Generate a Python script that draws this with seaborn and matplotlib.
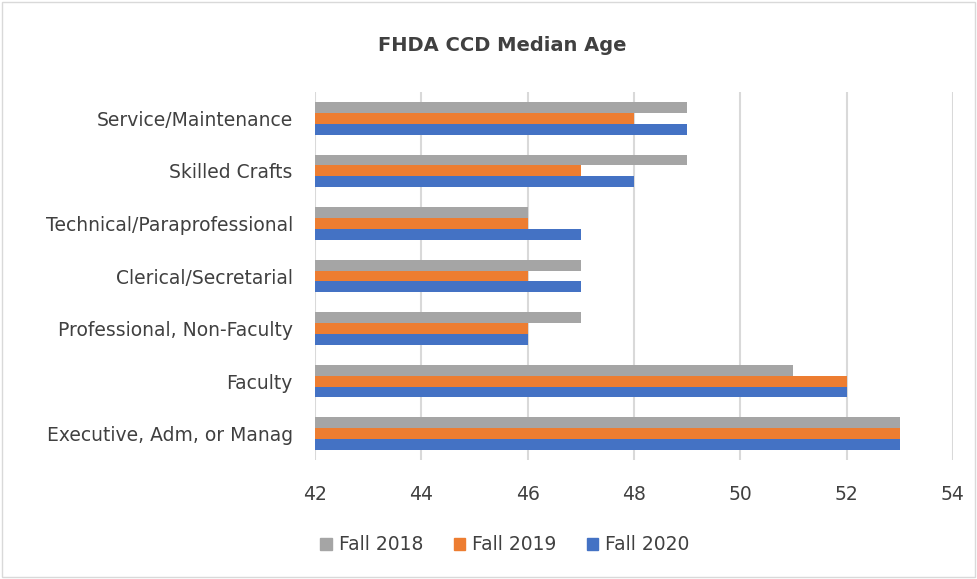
import matplotlib.pyplot as plt
import matplotlib.patches as mpatches
import seaborn as sns
import pandas as pd

categories = [
    'Service/Maintenance', 'Skilled Crafts', 'Technical/Paraprofessional',
    'Clerical/Secretarial', 'Professional, Non-Faculty', 'Faculty',
    'Executive, Adm, or Manag',
]
fall_2018 = [49, 49, 46, 47, 47, 51, 53]
fall_2019 = [48, 47, 46, 46, 46, 52, 53]
fall_2020 = [49, 48, 47, 47, 46, 52, 53]
series_names = ['Fall 2018', 'Fall 2019', 'Fall 2020']
colors = ['#A5A5A5', '#ED7D31', '#4472C4']

# long format for seaborn
rows = []
for name, vals in zip(series_names, [fall_2018, fall_2019, fall_2020]):
    for cat, v in zip(categories, vals):
        rows.append({'category': cat, 'series': name, 'age': v})
df = pd.DataFrame(rows)

sns.set_style('white')
plt.rcParams['font.family'] = ['DejaVu Sans']

fig = plt.figure(figsize=(9.77, 5.79), dpi=100)
ax = fig.add_axes([0.3224, 0.2055, 0.653, 0.6356])

sns.barplot(data=df, y='category', x='age', hue='series', order=categories,
            hue_order=series_names, palette=colors, orient='h', width=0.62,
            saturation=1, linewidth=0, ax=ax, legend=False)

ax.set_xlim(42, 54)
ax.set_xticks(range(42, 55, 2))
ax.set_ylim(len(categories) - 0.5, -0.5)
ax.set_xlabel('')
ax.set_ylabel('')
for s in ax.spines.values():
    s.set_visible(False)
ax.grid(axis='x', color='#D9D9D9', linewidth=1.5)
ax.set_axisbelow(True)
ax.tick_params(axis='both', length=0, colors='#404040', labelsize=13.5)
ax.tick_params(axis='y', pad=16)
ax.tick_params(axis='x', pad=18)

fig.text(0.514, 0.922, 'FHDA CCD Median Age', ha='center', va='center',
         fontsize=14, fontweight='bold', color='#404040')

handles = [mpatches.Patch(color=c, label=n) for c, n in zip(colors, series_names)]
fig.legend(handles=handles, loc='center', bbox_to_anchor=(0.517, 0.059), ncol=3,
           frameon=False, handlelength=0.6, handleheight=0.6, handletextpad=0.4,
           columnspacing=1.6, labelcolor='#404040', fontsize=13.5)

fig.patches.append(mpatches.Rectangle((0.002, 0.003), 0.996, 0.994, transform=fig.transFigure,
                                      fill=False, edgecolor='#D9D9D9', linewidth=1))

fig.savefig('out.png', dpi=100)
